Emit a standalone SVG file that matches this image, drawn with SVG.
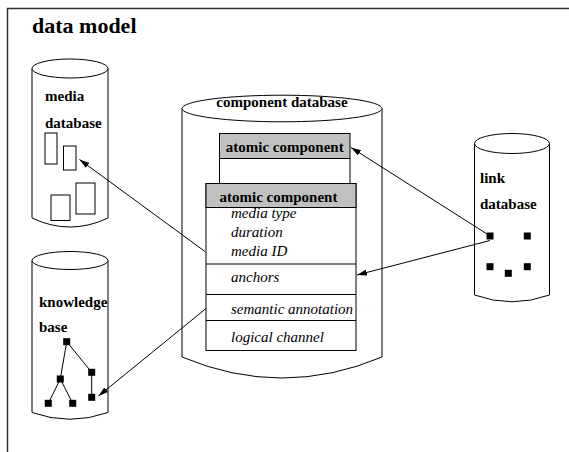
<svg xmlns="http://www.w3.org/2000/svg" width="569" height="452" viewBox="0 0 569 452">
  <style>
    .line { fill: none; stroke: #000; stroke-width: 1; }
    .cyl { fill: #fff; stroke: #000; stroke-width: 1; }
    .box { fill: #fff; stroke: #000; stroke-width: 1; }
    .head { fill: #c0c0c0; stroke: #000; stroke-width: 1; }
    .dot { fill: #000; }
    .b { font-family: "Liberation Serif", "Times New Roman", serif; font-weight: bold; font-size: 15px; fill: #000; }
    .i { font-family: "Liberation Serif", "Times New Roman", serif; font-style: italic; font-size: 15px; fill: #000; }
    .title { font-family: "Liberation Serif", "Times New Roman", serif; font-weight: bold; font-size: 22px; fill: #000; }
  </style>
  <defs>
    <marker id="arrow" viewBox="0 0 10 6" refX="10" refY="3" markerWidth="10" markerHeight="6" markerUnits="userSpaceOnUse" orient="auto">
      <path d="M0,0 L10,3 L0,6 Z" fill="#000"/>
    </marker>
  </defs>

  <rect width="569" height="452" fill="#fff"/>

  <!-- outer frame -->
  <path d="M7.5,452 V8.5 H569" fill="none" stroke="#333" stroke-width="1.5"/>
  <text class="title" x="32" y="33">data model</text>

  <!-- media database -->
  <g id="media-database">
    <path class="cyl" d="M32,68.5 V218 Q70,236 108,218 V68.5"/>
    <ellipse class="cyl" cx="70" cy="68.5" rx="38" ry="9.5"/>
    <text class="b" x="45" y="101">media</text>
    <text class="b" x="45" y="128">database</text>
    <rect class="box" x="45" y="133" width="12" height="31"/>
    <rect class="box" x="63.5" y="146" width="12.5" height="24"/>
    <rect class="box" x="51" y="195" width="19" height="25.5"/>
    <rect class="box" x="76" y="183" width="19" height="31"/>
  </g>

  <!-- knowledge base -->
  <g id="knowledge-base">
    <path class="cyl" d="M32,260.5 V412.5 Q70,426 108,412.5 V260.5"/>
    <ellipse class="cyl" cx="70" cy="260.5" rx="38" ry="9"/>
    <text class="b" x="39" y="307">knowledge</text>
    <text class="b" x="39" y="331.5">base</text>
    <g class="line">
      <line x1="66.7" y1="341.7" x2="60.3" y2="379"/>
      <line x1="66.7" y1="341.7" x2="91.7" y2="372.3"/>
      <line x1="60.3" y1="379" x2="48.3" y2="403.3"/>
      <line x1="60.3" y1="379" x2="72.7" y2="403.3"/>
      <line x1="91.7" y1="372.3" x2="91.7" y2="397.3"/>
    </g>
    <rect class="dot" x="63.2" y="338.2" width="7" height="7"/>
    <rect class="dot" x="56.8" y="375.5" width="7" height="7"/>
    <rect class="dot" x="88.2" y="368.8" width="7" height="7"/>
    <rect class="dot" x="44.8" y="399.8" width="7" height="7"/>
    <rect class="dot" x="69.2" y="399.8" width="7" height="7"/>
    <rect class="dot" x="88.2" y="393.8" width="7" height="7"/>
  </g>

  <!-- component database -->
  <g id="component-database">
    <path class="cyl" d="M182,108.5 V357 Q282,399 382,357 V108.5"/>
    <ellipse class="cyl" cx="282" cy="108.5" rx="100" ry="13.3"/>
    <text class="b" x="282" y="106.5" text-anchor="middle">component database</text>
  </g>

  <!-- atomic component (back) -->
  <g id="atomic-component-back">
    <rect class="box" x="219.5" y="158.5" width="130.5" height="25"/>
    <rect class="head" x="219.5" y="133.5" width="130.5" height="25"/>
    <text class="b" x="284.7" y="151.5" text-anchor="middle">atomic component</text>
  </g>

  <!-- atomic component (front) -->
  <g id="atomic-component">
    <rect class="box" x="206" y="183.5" width="150" height="167"/>
    <rect class="head" x="206" y="183.5" width="150" height="24"/>
    <text class="b" x="219.5" y="201.5">atomic component</text>
    <text class="i" x="231" y="218">media type</text>
    <text class="i" x="231" y="237">duration</text>
    <text class="i" x="231" y="256">media ID</text>
    <line class="line" x1="206" y1="264" x2="356" y2="264"/>
    <text class="i" x="231" y="282">anchors</text>
    <line class="line" x1="206" y1="294.5" x2="356" y2="294.5"/>
    <text class="i" x="231" y="313.5">semantic annotation</text>
    <line class="line" x1="206" y1="320.5" x2="356" y2="320.5"/>
    <text class="i" x="231" y="342">logical channel</text>
  </g>

  <!-- link database -->
  <g id="link-database">
    <path class="cyl" d="M474.5,143.5 V295 Q512,308.5 549.5,295 V143.5"/>
    <ellipse class="cyl" cx="512" cy="143.5" rx="37.5" ry="10"/>
    <text class="b" x="480" y="182.5">link</text>
    <text class="b" x="480" y="208.5">database</text>
    <rect class="dot" x="486.5" y="232.5" width="7" height="7"/>
    <rect class="dot" x="523.8" y="232.5" width="7" height="7"/>
    <rect class="dot" x="486.5" y="263.2" width="7" height="7"/>
    <rect class="dot" x="504.8" y="269.8" width="7" height="7"/>
    <rect class="dot" x="523.8" y="263.2" width="7" height="7"/>
  </g>

  <!-- connectors -->
  <g id="connectors" class="line">
    <line x1="205" y1="251.5" x2="79.5" y2="159.5" marker-end="url(#arrow)"/>
    <line x1="206" y1="308.5" x2="98.5" y2="396" marker-end="url(#arrow)"/>
    <line x1="487" y1="234" x2="351" y2="147.5" marker-end="url(#arrow)"/>
    <line x1="490" y1="240.5" x2="357" y2="275" marker-end="url(#arrow)"/>
  </g>
</svg>
